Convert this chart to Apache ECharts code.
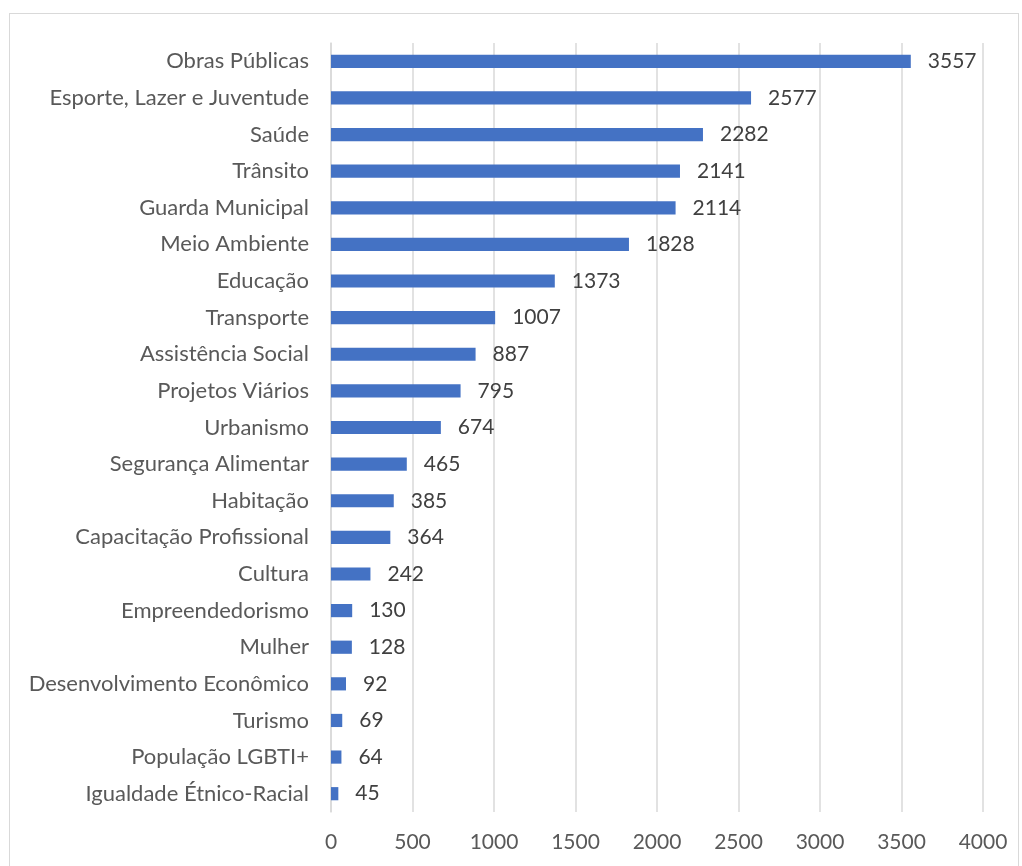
<!DOCTYPE html>
<html><head><meta charset="utf-8">
<script src="https://cdn.jsdelivr.net/npm/echarts@6/dist/echarts.min.js"></script>
<style>
html,body{margin:0;padding:0;background:#fff;}
#frame{position:absolute;left:9px;top:13px;width:1010px;height:900px;border:1px solid #d9d9d9;box-sizing:border-box;}
#c{position:absolute;left:0;top:0;width:1022px;height:866px;}
</style></head>
<body><div id="frame"></div><div id="c"></div>
<script>
const categories = ["Obras Públicas","Esporte, Lazer e Juventude","Saúde","Trânsito","Guarda Municipal","Meio Ambiente","Educação","Transporte","Assistência Social","Projetos Viários","Urbanismo","Segurança Alimentar","Habitação","Capacitação Profissional","Cultura","Empreendedorismo","Mulher","Desenvolvimento Econômico","Turismo","População LGBTI+","Igualdade Étnico-Racial"];
const values = [3557,2577,2282,2141,2114,1828,1373,1007,887,795,674,465,385,364,242,130,128,92,69,64,45];
const xTicks = [0,500,1000,1500,2000,2500,3000,3500,4000];

const chart = echarts.init(document.getElementById('c'), null, {renderer:'canvas'});
const font = 'Lato';
chart.setOption({
  animation:false,
  grid:{left:331,right:39,top:43,bottom:54,containLabel:false},
  xAxis:{type:'value',min:xTicks[0],max:xTicks[xTicks.length-1],interval:500,
    axisLine:{show:false},axisTick:{show:false},
    splitLine:{show:true,lineStyle:{color:'#d9d9d9',width:1.5}},
    axisLabel:{color:'#595959',fontFamily:font,fontSize:21,margin:20,formatter:v=>String(v)}},
  yAxis:{type:'category',inverse:true,data:categories,
    axisLine:{show:true,lineStyle:{color:'#d9d9d9',width:1.5}},axisTick:{show:false},
    axisLabel:{color:'#595959',fontFamily:font,fontSize:22,margin:22}},
  series:[{type:'bar',data:values,barWidth:'36%',
    itemStyle:{color:'#4472C4'},
    label:{show:true,position:'right',distance:17,color:'#404040',fontFamily:font,fontSize:21}}]
});
</script></body></html>
